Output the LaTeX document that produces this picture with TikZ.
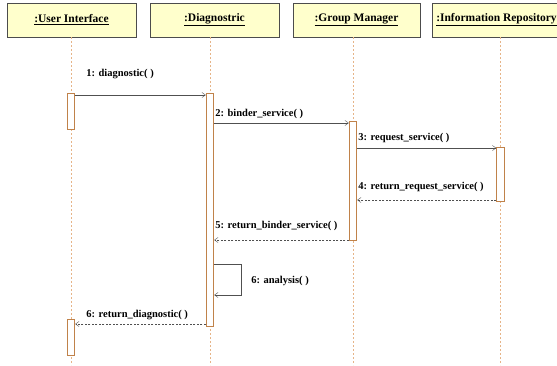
\documentclass[tikz,border=0pt]{standalone}
\usepackage{fontspec}
\setmainfont{Liberation Serif}
\usepackage{tikz}
\usetikzlibrary{arrows.meta}

\definecolor{entete}{HTML}{FFFFCC}
\definecolor{bordact}{HTML}{C0824A}
\definecolor{pointille}{HTML}{E6B488}
\definecolor{fleche}{HTML}{505050}

\tikzset{
  objet/.style={draw=black!70, fill=entete, minimum height=34pt, inner sep=0pt,
    font=\fontsize{11.5}{13}\selectfont\bfseries},
  barre/.style={draw=bordact, line width=0.9pt, fill=white, minimum width=7.5pt, inner sep=0pt},
  ligvie/.style={pointille, dash pattern=on 2pt off 2pt},
  msg/.style={fleche, -{Straight Barb[length=3.5pt, width=5pt]}},
  retour/.style={msg, dash pattern=on 2pt off 1.5pt},
  lbl/.style={black, font=\fontsize{10.5}{12}\selectfont\bfseries, inner sep=1pt}
}

\begin{document}
\begin{tikzpicture}[x=1pt, y=-1pt]
 \useasboundingbox (0,0) rectangle (557,365);

	% Objets
 \node[objet, minimum width=129pt] (ui) at (71.5,20) {\underline{:User Interface}};
 \node[objet, minimum width=129pt] (dg) at (214.5,20) {\underline{:Diagnostric}};
 \node[objet, minimum width=127pt] (gm) at (356.5,20) {\underline{:Group Manager}};
 \node[objet, minimum width=129pt] (ir) at (496.5,20) {\underline{:Information Repository}};

	% Lignes de vie
 \draw[ligvie] (71,37) -- (71,365);
 \draw[ligvie] (210,37) -- (210,365);
 \draw[ligvie] (353,37) -- (353,365);
 \draw[ligvie] (500.5,37) -- (500.5,365);

	% Activations
 \node[barre, minimum height=36pt, anchor=north] (ui1) at (71,93) {};
 \node[barre, minimum height=233pt, anchor=north] (dg1) at (210,93) {};
 \node[barre, minimum height=119pt, anchor=north] (gm1) at (353,121) {};
 \node[barre, minimum height=54pt, anchor=north] (ir1) at (500.5,147) {};
 \node[barre, minimum height=36pt, anchor=north] (ui2) at (71,319) {};

	% Messages
 \coordinate (m1) at (0,95);
 \coordinate (m2) at (0,123);
 \coordinate (m3) at (0,148);
 \coordinate (m4) at (0,200);
 \coordinate (m5) at (0,240);
 \coordinate (m6) at (0,264);
 \coordinate (m7) at (0,324);

 \draw[msg] (ui1.east |- m1) -- (dg1.west |- m1)
   node[lbl, at start, anchor=south west, xshift=10pt, yshift=15pt]{1: diagnostic( )};
 \draw[msg] (dg1.east |- m2) -- (gm1.west |- m2)
   node[lbl, at start, anchor=south west, yshift=3pt]{2: binder\_service( )};
 \draw[msg] (gm1.east |- m3) -- (ir1.west |- m3)
   node[lbl, at start, anchor=south west, yshift=4pt]{3: request\_service( )};
 \draw[retour] (ir1.west |- m4) -- (gm1.east |- m4)
   node[lbl, at end, anchor=south west, yshift=7pt]{4: return\_request\_service( )};
 \draw[retour] (gm1.west |- m5) -- (dg1.east |- m5)
   node[lbl, at end, anchor=south west, yshift=8pt]{5: return\_binder\_service( )};
 \draw[msg] (dg1.east |- m6) -- ++(27,0)
   node[lbl, anchor=west, xshift=9pt, yshift=-17pt]{6: analysis( )}
   |- (dg1.east |- 0,295);
 \draw[retour] (dg1.west |- m7) -- (ui2.east |- m7)
   node[lbl, at end, anchor=south west, xshift=10pt, yshift=3pt]{6: return\_diagnostic( )};

\end{tikzpicture}
\end{document}
